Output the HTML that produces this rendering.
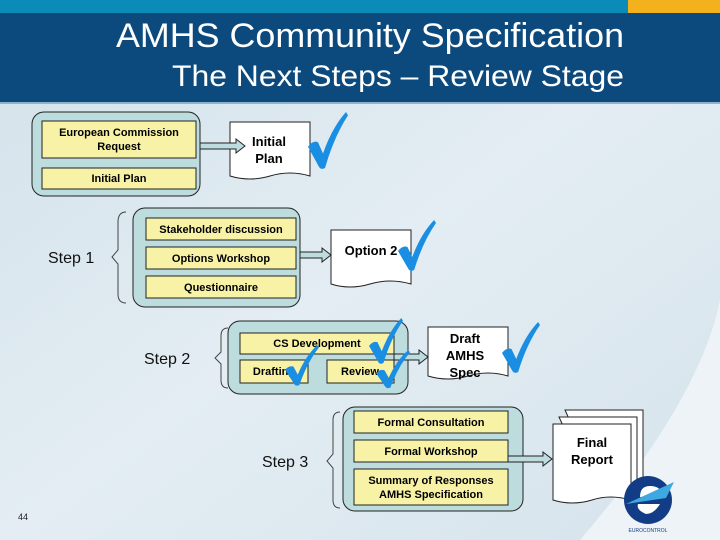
<!DOCTYPE html>
<html><head><meta charset="utf-8"><style>
body{margin:0;width:720px;height:540px;overflow:hidden;font-family:"Liberation Sans",sans-serif}
svg{display:block}
</style></head><body>
<svg width="720" height="540" viewBox="0 0 720 540" xmlns="http://www.w3.org/2000/svg" font-family="Liberation Sans, Arial, sans-serif">
<defs>
<linearGradient id="bg" x1="0" y1="0" x2="1" y2="1"><stop offset="0" stop-color="#d3e1ea"/><stop offset="0.5" stop-color="#e3edf3"/><stop offset="1" stop-color="#d6e3ec"/></linearGradient>
<path id="ck" d="M0 31 Q5 25 10 27 L15 37 Q24 14 38 0 L40 3 Q26 22 17 50 Q13 52 11 49 Z" fill="#1a8ee3"/>
</defs>
<rect width="720" height="540" fill="url(#bg)"/>
<path d="M580 540 Q700 400 720 300 L720 540Z" fill="#eef3f7"/>
<rect x="0" y="0" width="720" height="13" fill="#0b8bb8"/>
<rect x="628" y="0" width="92" height="13" fill="#f3b21b"/>
<rect x="0" y="13" width="720" height="89" fill="#0c4a7d"/>
<rect x="0" y="102" width="720" height="2" fill="#8fb3cc"/>
<text x="116" y="47" fill="#fff" font-size="34" textLength="508" lengthAdjust="spacingAndGlyphs">AMHS Community Specification</text>
<text x="172" y="86" fill="#fff" font-size="30" textLength="452" lengthAdjust="spacingAndGlyphs">The Next Steps – Review Stage</text>

<g stroke="#222" stroke-width="1">
<rect x="32" y="112" width="168" height="84" rx="12" fill="#bcdcde"/>
<rect x="42" y="121" width="154" height="37" fill="#f7f2a6"/>
<rect x="42" y="168" width="154" height="21" fill="#f7f2a6"/>
<rect x="133" y="208" width="167" height="99" rx="12" fill="#bcdcde"/>
<rect x="146" y="218" width="150" height="22" fill="#f7f2a6"/>
<rect x="146" y="247" width="150" height="22" fill="#f7f2a6"/>
<rect x="146" y="276" width="150" height="22" fill="#f7f2a6"/>
<rect x="228" y="321" width="180" height="73" rx="12" fill="#bcdcde"/>
<rect x="240" y="333" width="154" height="21" fill="#f7f2a6"/>
<rect x="240" y="360" width="68" height="23" fill="#f7f2a6"/>
<rect x="327" y="360" width="67" height="23" fill="#f7f2a6"/>
<rect x="343" y="407" width="180" height="104" rx="12" fill="#bcdcde"/>
<rect x="354" y="411" width="154" height="22" fill="#f7f2a6"/>
<rect x="354" y="440" width="154" height="22" fill="#f7f2a6"/>
<rect x="354" y="469" width="154" height="36" fill="#f7f2a6"/>
<path d="M230 122 H310 V176 Q290 170 270 176 Q250 182 230 176 Z" fill="#fff"/>
<path d="M331 230 H411 V284 Q390 278 370 284 Q350 290 331 284 Z" fill="#fff"/>
<path d="M428 327 H508 V376 Q488 370 468 376 Q448 382 428 376 Z" fill="#fff"/>
<path d="M565 410 H643 V487 Q625 482 600 488 Z" fill="#fff"/>
<path d="M559 417 H637 V494 Q620 489 595 495 Z" fill="#fff"/>
<path d="M553 424 H631 V500 Q610 494 592 500 Q572 506 553 500 Z" fill="#fff"/>
<path d="M200 143 H236 V139 L245 146 L236 153 V149 H200Z" fill="#bcdcde"/>
<path d="M300 252 H322 V248 L331 255 L322 262 V258 H300Z" fill="#bcdcde"/>
<path d="M394 354 H419 V350 L428 357 L419 364 V360 H394Z" fill="#bcdcde"/>
<path d="M508 456 H543 V452 L552 459 L543 466 V462 H508Z" fill="#bcdcde"/>
</g>
<g stroke="#444" fill="none" stroke-width="1">
<path d="M126 212 Q118 212 118 222 V250 L112 257 L118 264 V294 Q118 303 126 303"/>
<path d="M228 328 Q221 328 221 336 V352 L215 358 L221 364 V380 Q221 388 228 388"/>
<path d="M340 412 Q333 412 333 420 V454 L327 461 L333 468 V500 Q333 508 340 508"/>
</g>

<g font-weight="bold" font-size="11" fill="#000" text-anchor="middle">
<text x="119" y="136">European Commission</text>
<text x="119" y="150">Request</text>
<text x="119" y="182">Initial Plan</text>
<text x="221" y="233">Stakeholder discussion</text>
<text x="221" y="262">Options Workshop</text>
<text x="221" y="291">Questionnaire</text>
<text x="317" y="347">CS Development</text>
<text x="274" y="375">Drafting</text>
<text x="360" y="375">Review</text>
<text x="431" y="426">Formal Consultation</text>
<text x="431" y="455">Formal Workshop</text>
<text x="431" y="484">Summary of Responses</text>
<text x="431" y="498">AMHS Specification</text>
<g font-size="13">
<text x="269" y="146">Initial</text>
<text x="269" y="163">Plan</text>
<text x="371" y="255">Option 2</text>
<text x="465" y="343">Draft</text>
<text x="465" y="360">AMHS</text>
<text x="465" y="377">Spec</text>
<text x="592" y="447">Final</text>
<text x="592" y="464">Report</text>
</g>
</g>
<g font-size="16" fill="#111">
<text x="48" y="263">Step 1</text>
<text x="144" y="364">Step 2</text>
<text x="262" y="467">Step 3</text>
</g>
<text x="18" y="520" font-size="9" fill="#222">44</text>

<use href="#ck" transform="translate(308,112) scale(1,1.12)"/>
<use href="#ck" transform="translate(398,220) scale(0.95,1)"/>
<use href="#ck" transform="translate(502,322) scale(0.95,1)"/>
<use href="#ck" transform="translate(369,318) scale(0.85,0.9)"/>
<use href="#ck" transform="translate(285,345) scale(0.85,0.8)"/>
<use href="#ck" transform="translate(376,350) scale(0.85,0.75)"/>
<g transform="translate(648,500)">
<circle r="24" fill="#123d86"/>
<path d="M-8 -3 H14 Q14 -14 2 -14 Q-8 -14 -8 -3Z" fill="#fff"/>
<path d="M-10 4 H12 Q6 14 -2 14 Q-12 10 -10 4Z" fill="#fff"/>
<path d="M-22 4 L26 -18 L18 -2 Z" fill="#3fa8e0"/>
<text x="0" y="32" font-size="5" fill="#123d86" text-anchor="middle">EUROCONTROL</text>
</g>
</svg>
</body></html>
